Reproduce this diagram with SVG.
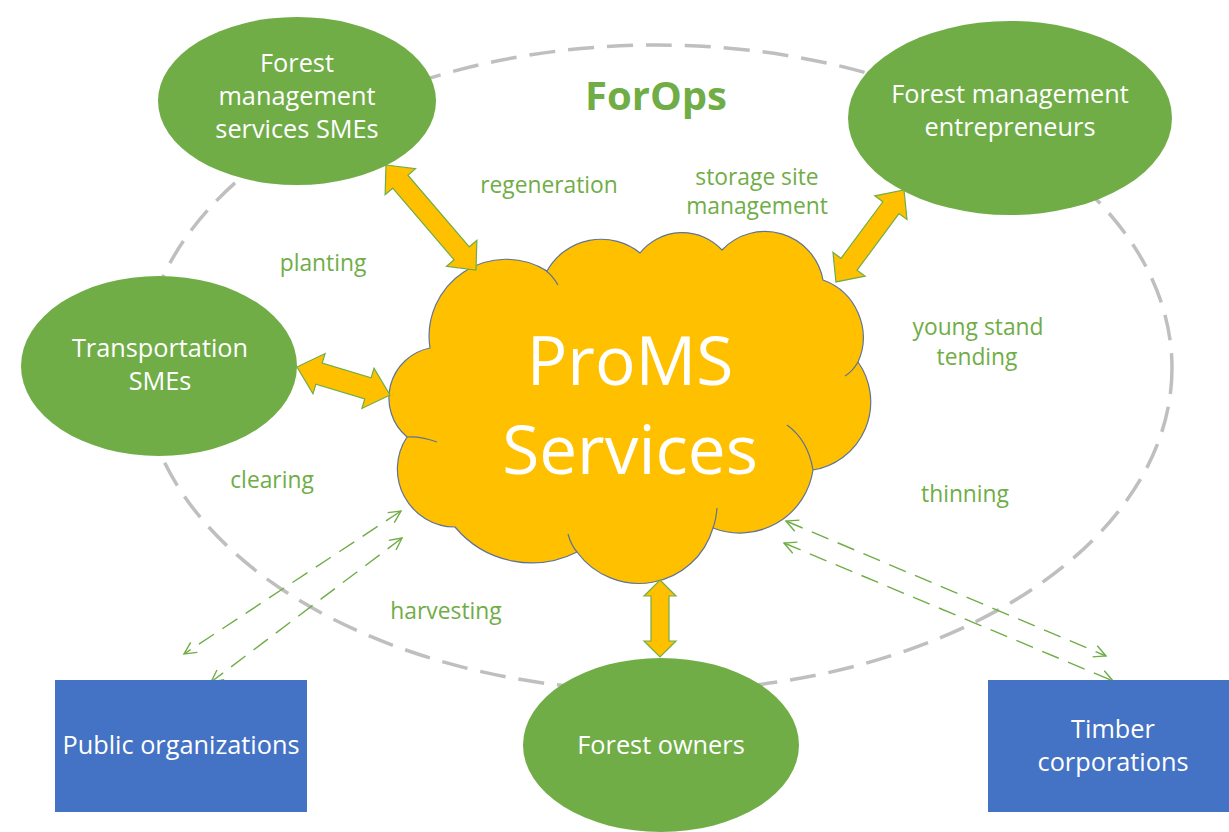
<svg xmlns="http://www.w3.org/2000/svg" width="1229" height="832" viewBox="0 0 1229 832">
<style>
.node{fill:#70AD47;}
.box{fill:#4472C4;}
.nt{font-family:"Open Sans","Liberation Sans",sans-serif;font-size:25.3px;fill:#FFFFFF;text-anchor:middle;}
.lbl{font-family:"Open Sans","Liberation Sans",sans-serif;font-size:22.8px;fill:#70AD47;text-anchor:middle;}
.dbl{fill:#FFC000;stroke:#70AD47;stroke-width:1.2;stroke-linejoin:miter;}
.flow{fill:none;stroke:#70AD47;stroke-width:1.4;stroke-dasharray:18 10;marker-start:url(#oa);marker-end:url(#oa);}
.curl{fill:none;stroke:#5E7397;stroke-width:1.2;}
</style>
<defs>
<marker id="oa" viewBox="0 0 16 16" refX="14" refY="8" markerWidth="16" markerHeight="16" markerUnits="userSpaceOnUse" orient="auto-start-reverse">
<path d="M2,2 L14,8 L2,14" fill="none" stroke="#70AD47" stroke-width="1.4"/>
</marker>
</defs>
<rect width="1229" height="832" fill="#FFFFFF"/>
<g id="forops-boundary">
<ellipse cx="657" cy="368" rx="515" ry="323" fill="none" stroke="#BFBFBF" stroke-width="3.5" stroke-dasharray="26 13"/>
</g>
<g id="connectors">
<line class="flow" x1="401" y1="511" x2="184" y2="654"/>
<line class="flow" x1="402" y1="538" x2="211" y2="682"/>
<line class="flow" x1="786" y1="521" x2="1106" y2="656"/>
<line class="flow" x1="784" y1="543" x2="1113" y2="681"/>
</g>
<g id="proms">
<path d="M430,348 A77,77 0 0 1 547,271 A62,62 0 0 1 640,253 A54,54 0 0 1 722,250 A59,59 0 0 1 823,280 A61,61 0 0 1 858,362 A69,69 0 0 1 813,470 A74,74 0 0 1 713,528 A77,77 0 0 1 577,552 A100,100 0 0 1 455,527 A58,58 0 0 1 407,437 A51,51 0 0 1 430,348 Z" fill="#FFC000" stroke="#5E7397" stroke-width="1.2"/>
<path class="curl" d="M545,270 Q553,276 558,285"/>
<path class="curl" d="M858,362 Q853,371 845,376"/>
<path class="curl" d="M787,425 Q808,440 813,470"/>
<path class="curl" d="M717,508 Q716,520 713,528"/>
<path class="curl" d="M568,534 Q571,545 577,552"/>
<path class="curl" d="M437,442 Q420,436 407,437"/>
<text x="630" y="385" font-family="Open Sans, Liberation Sans, sans-serif" font-size="67.5" fill="#FFFFFF" text-anchor="middle">ProMS</text>
<text x="630" y="474" font-family="Open Sans, Liberation Sans, sans-serif" font-size="67.5" fill="#FFFFFF" text-anchor="middle">Services</text>
</g>
<g id="arrows">
<polygon class="dbl" transform="translate(386,165) rotate(49.4)" points="0,0 22,-20 22,-10 116.3,-10 116.3,-20 138.3,0 116.3,20 116.3,10 22,10 22,20"/>
<polygon class="dbl" transform="translate(297,367) rotate(16.76)" points="0,0 23,-21 23,-11 74.1,-11 74.1,-21 97.1,0 74.1,21 74.1,11 23,11 23,21"/>
<polygon class="dbl" transform="translate(904,190) rotate(126.5)" points="0,0 22,-20 22,-10 92.4,-10 92.4,-20 114.4,0 92.4,20 92.4,10 22,10 22,20"/>
<polygon class="dbl" transform="translate(660,580) rotate(90)" points="0,0 16,-16 16,-9 61,-9 61,-16 77,0 61,16 61,9 16,9 16,16"/>
</g>
<g id="fm-services-smes">
<ellipse class="node" cx="297" cy="101" rx="139" ry="84"/>
<text class="nt" x="297" y="72">Forest</text>
<text class="nt" x="297" y="105">management</text>
<text class="nt" x="297" y="138">services SMEs</text>
</g>
<g id="fm-entrepreneurs">
<ellipse class="node" cx="1010" cy="118" rx="162" ry="97"/>
<text class="nt" x="1010" y="103">Forest management</text>
<text class="nt" x="1010" y="136">entrepreneurs</text>
</g>
<g id="transportation-smes">
<ellipse class="node" cx="159" cy="366" rx="138" ry="90"/>
<text class="nt" x="160" y="357">Transportation</text>
<text class="nt" x="160" y="390">SMEs</text>
</g>
<g id="forest-owners">
<ellipse class="node" cx="661" cy="745" rx="138" ry="87"/>
<text class="nt" x="661" y="754">Forest owners</text>
</g>
<g id="public-organizations">
<rect class="box" x="55" y="680" width="252" height="132"/>
<text class="nt" x="181" y="754">Public organizations</text>
</g>
<g id="timber-corporations">
<rect class="box" x="988" y="680" width="241" height="132"/>
<text class="nt" x="1113" y="738">Timber</text>
<text class="nt" x="1113" y="771">corporations</text>
</g>
<g id="labels">
<text x="656" y="110" font-family="Open Sans, Liberation Sans, sans-serif" font-size="40" font-weight="bold" fill="#70AD47" text-anchor="middle">ForOps</text>
<text class="lbl" x="549" y="193">regeneration</text>
<text class="lbl" x="757" y="185">storage site</text>
<text class="lbl" x="757" y="214">management</text>
<text class="lbl" x="323" y="271">planting</text>
<text class="lbl" x="978" y="335">young stand</text>
<text class="lbl" x="977" y="365">tending</text>
<text class="lbl" x="272" y="488">clearing</text>
<text class="lbl" x="965" y="502">thinning</text>
<text class="lbl" x="446" y="619">harvesting</text>
</g>
</svg>
